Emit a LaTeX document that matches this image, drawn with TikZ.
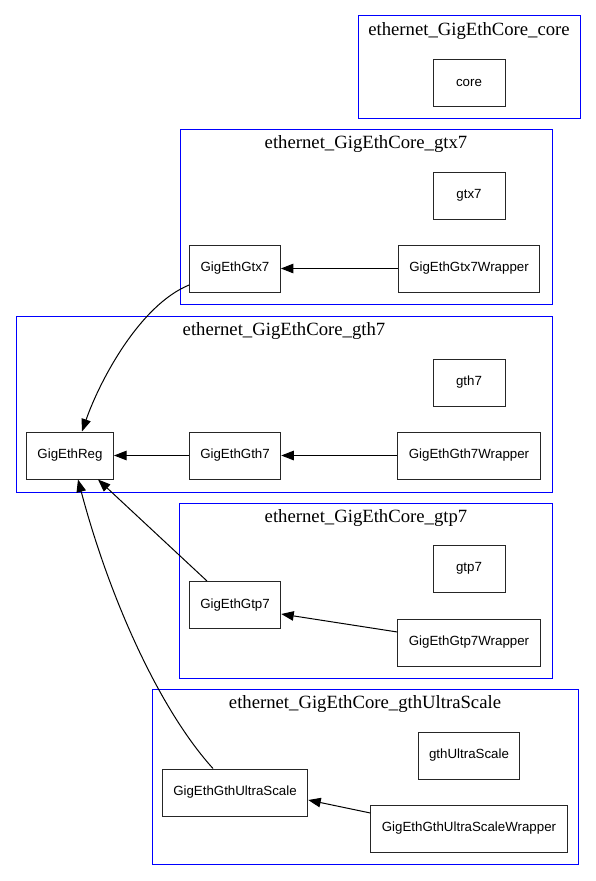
\documentclass[tikz,border=0pt]{standalone}
\usepackage{fontspec}
\setmainfont{Liberation Serif}
\newfontfamily\nodefont{Liberation Sans}
\usetikzlibrary{arrows.meta,positioning}
\begin{document}
\begin{tikzpicture}[x=1pt,y=-1pt,
  cluster/.style={draw={rgb,255:red,0;green,0;blue,255},line width=1pt},
  clabel/.style={font=\fontsize{18.7}{20}\selectfont,inner sep=0pt,anchor=center},
  box/.style={draw=black!85,line width=1pt,rectangle,minimum width=72pt,minimum height=47pt,inner xsep=11pt,inner ysep=0pt,font=\nodefont\fontsize{13.3}{15}\selectfont},
  edge/.style={line width=1pt,-{Triangle[length=12.5pt,width=9.5pt]}}]
\useasboundingbox (0,0) rectangle (595,881);
% clusters
\draw[cluster] (358,15) rectangle (580,118);
\node[clabel] (lcore) at (469,31) {ethernet\_GigEthCore\_core};
\draw[cluster] (180,129) rectangle (552,304);
\node[clabel] (lgtx) at (366,144) {ethernet\_GigEthCore\_gtx7};
\draw[cluster] (16,316) rectangle (552,492);
\node[clabel] (lgth) at (284,331) {ethernet\_GigEthCore\_gth7};
\draw[cluster] (179,503) rectangle (552,678);
\node[clabel] (lgtp) at (366,518) {ethernet\_GigEthCore\_gtp7};
\draw[cluster] (152,689) rectangle (578,864);
\node[clabel] (lus) at (365,704) {ethernet\_GigEthCore\_gthUltraScale};
% nodes
\node[box] (core) at (469,82.5) {core};
\node[box] (gtx7) at (469,195.5) {gtx7};
\node[box] (gtx) at (235,268.5) {GigEthGtx7};
\node[box] (gtxw) at (469,268.5) {GigEthGtx7Wrapper};
\node[box] (gth7) at (469,382.5) {gth7};
\node[box] (reg) at (70,455.5) {GigEthReg};
\node[box] (gth) at (235,455.5) {GigEthGth7};
\node[box] (gthw) at (469,455.5) {GigEthGth7Wrapper};
\node[box] (gtp7) at (469,568.5) {gtp7};
\node[box] (gtp) at (235,605) {GigEthGtp7};
\node[box] (gtpw) at (469,642.5) {GigEthGtp7Wrapper};
\node[box] (gus) at (469,755.5) {gthUltraScale};
\node[box] (us) at (235,792.5) {GigEthGthUltraScale};
\node[box] (usw) at (469,828.5) {GigEthGthUltraScaleWrapper};
% edges
\draw[edge] (gtxw) -- (gtx);
\draw[edge] (gthw) -- (gth);
\draw[edge] (gth) -- (reg);
\draw[edge] (gtpw.west |- 0,632) -- (gtp.east |- 0,614);
\draw[edge] (usw.west |- 0,813) -- (us.east |- 0,800);
\draw[edge] (gtx.west |- 0,285) .. controls (140,305) and (100,380) .. ([xshift=12pt]reg.north);
\draw[edge] ([xshift=-28pt]gtp.north) -- ([xshift=28pt]reg.south);
\draw[edge] ([xshift=-22pt]us.north) .. controls (160,710) and (110,600) .. ([xshift=8pt]reg.south);
\end{tikzpicture}
\end{document}
